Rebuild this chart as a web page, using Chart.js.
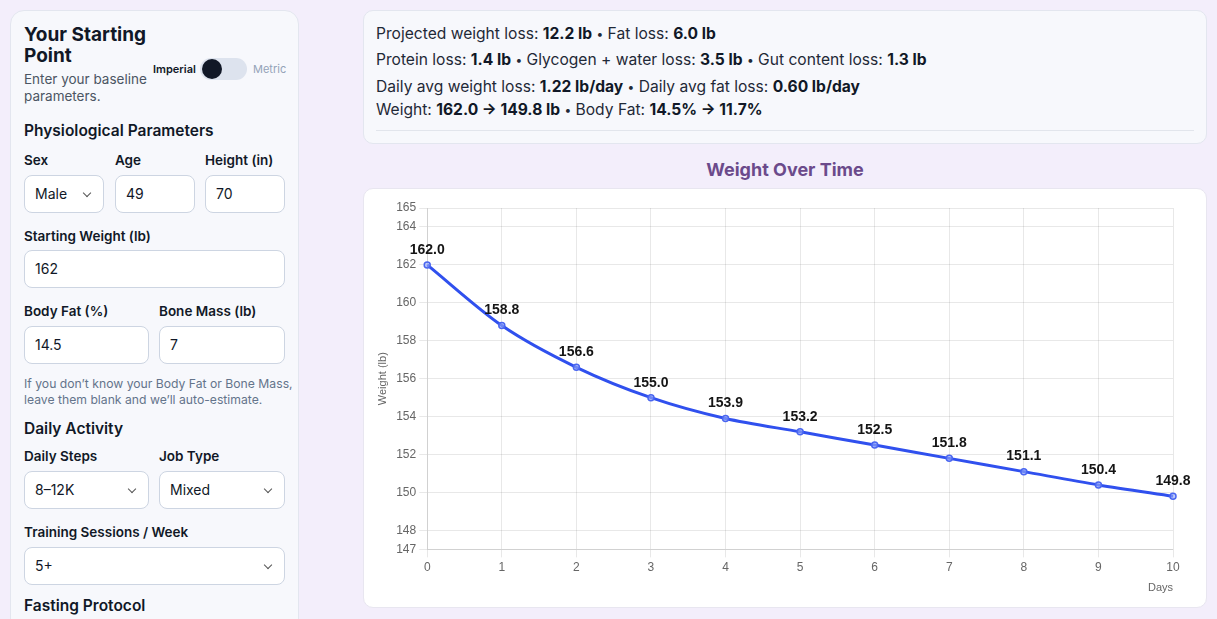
<!DOCTYPE html>
<html>
<head>
<meta charset="utf-8">
<script src="https://cdn.jsdelivr.net/npm/chart.js@4.4.1/dist/chart.umd.min.js"></script>
<style>
  * { box-sizing: border-box; }
  body {
    margin: 0;
    background: #f3eefb;
    font-family: Inter, "Noto Sans", sans-serif;
    color: #111827;
    width: 1217px;
    height: 619px;
    overflow: hidden;
    position: relative;
  }
  .panel {
    position: absolute;
    left: 10px;
    top: 10px;
    width: 289px;
    height: 640px;
    background: #f7f8fc;
    border: 1px solid #e3e6ef;
    border-radius: 14px;
    padding: 0 14px;
  }
  .abs { position: absolute; }
  .h1 { font-size: 19px; font-weight: 700; line-height: 21px; left: 13px; top: 13px; }
  .sub { font-size: 13.5px; color: #4b5563; line-height: 17px; left: 13px; top: 60px; }
  .toggle-lbl { font-size: 11px; font-weight: 600; top: 51px; left: 142px; }
  .toggle { left: 189px; top: 47px; width: 47px; height: 22px; border-radius: 11px; background: #dde3ee; }
  .toggle::after { content: ""; position: absolute; left: 2px; top: 1px; width: 20px; height: 20px; border-radius: 50%; background: #111827; }
  .metric { font-size: 11px; color: #94a3b8; top: 51px; left: 242px; }
  .sec { font-size: 15.5px; font-weight: 600; left: 13px; }
  .lbl { font-size: 13.5px; font-weight: 600; }
  .inp {
    height: 38px;
    background: #fff;
    border: 1px solid #cdd5e2;
    border-radius: 8px;
    font-size: 14px;
    line-height: 36px;
    padding-left: 10px;
  }
  .sel::after {
    content: "";
    position: absolute;
    right: 13px;
    top: 14px;
    width: 5px;
    height: 5px;
    border-right: 1.3px solid #555;
    border-bottom: 1.3px solid #555;
    transform: rotate(45deg);
  }
  .help { font-size: 12.2px; color: #64748b; line-height: 16px; left: 13px; top: 365px; }
  .summary {
    position: absolute;
    left: 363px;
    top: 10px;
    width: 844px;
    height: 134px;
    background: #f7f8fc;
    border: 1px solid #e3e6ef;
    border-radius: 10px;
    padding: 11px 12px 0 12px;
    font-size: 15.6px;
    color: #1f2937;
  }
  .summary div { line-height: 23px; height: 23px; white-space: nowrap; }
  .summary b { font-weight: 700; color: #111827; }
  .summary i { font-style: normal; font-size: 12px; line-height: 0; vertical-align: 1px; }
  .summary hr { border: 0; border-top: 1px solid #e2e5ec; margin: 9px 0 0 0; }
  .ctitle {
    position: absolute;
    left: 363px;
    width: 844px;
    top: 159px;
    text-align: center;
    font-size: 18px;
    font-weight: 700;
    color: #6b4a8b;
  }
  .card {
    position: absolute;
    left: 363px;
    top: 188px;
    width: 844px;
    height: 420px;
    background: #fff;
    border: 1px solid #e8e6f0;
    border-radius: 10px;
  }
  .card canvas { position: absolute; left: 0; top: 0; }
</style>
</head>
<body>
<div class="panel">
  <div class="abs h1">Your Starting<br>Point</div>
  <div class="abs sub">Enter your baseline<br>parameters.</div>
  <div class="abs toggle-lbl">Imperial</div>
  <div class="abs toggle"></div>
  <div class="abs metric">Metric</div>

  <div class="abs sec" style="top:110px">Physiological Parameters</div>
  <div class="abs lbl" style="left:13px;top:141px">Sex</div>
  <div class="abs lbl" style="left:104px;top:141px">Age</div>
  <div class="abs lbl" style="left:194px;top:141px">Height (in)</div>
  <div class="abs inp sel" style="left:13px;top:164px;width:80px">Male</div>
  <div class="abs inp" style="left:104px;top:164px;width:80px">49</div>
  <div class="abs inp" style="left:194px;top:164px;width:80px">70</div>

  <div class="abs lbl" style="left:13px;top:217px">Starting Weight (lb)</div>
  <div class="abs inp" style="left:13px;top:239px;width:261px">162</div>

  <div class="abs lbl" style="left:13px;top:292px">Body Fat (%)</div>
  <div class="abs lbl" style="left:148px;top:292px">Bone Mass (lb)</div>
  <div class="abs inp" style="left:13px;top:315px;width:125px">14.5</div>
  <div class="abs inp" style="left:148px;top:315px;width:126px">7</div>

  <div class="abs help">If you don’t know your Body Fat or Bone Mass,<br>leave them blank and we’ll auto-estimate.</div>

  <div class="abs sec" style="top:408px">Daily Activity</div>
  <div class="abs lbl" style="left:13px;top:437px">Daily Steps</div>
  <div class="abs lbl" style="left:148px;top:437px">Job Type</div>
  <div class="abs inp sel" style="left:13px;top:460px;width:125px">8–12K</div>
  <div class="abs inp sel" style="left:148px;top:460px;width:126px">Mixed</div>

  <div class="abs lbl" style="left:13px;top:513px">Training Sessions / Week</div>
  <div class="abs inp sel" style="left:13px;top:536px;width:261px">5+</div>

  <div class="abs sec" style="top:585px">Fasting Protocol</div>
</div>

<div class="summary">
  <div style="margin-bottom:3px">Projected weight loss: <b>12.2 lb</b> <i>•</i> Fat loss: <b>6.0 lb</b></div>
  <div style="margin-bottom:4px">Protein loss: <b>1.4 lb</b> <i>•</i> Glycogen + water loss: <b>3.5 lb</b> <i>•</i> Gut content loss: <b>1.3 lb</b></div>
  <div>Daily avg weight loss: <b>1.22 lb/day</b> <i>•</i> Daily avg fat loss: <b>0.60 lb/day</b></div>
  <div>Weight: <b>162.0 → 149.8 lb</b> <i>•</i> Body Fat: <b>14.5% → 11.7%</b></div>
  <hr>
</div>

<div class="ctitle">Weight Over Time</div>
<div class="card">
  <canvas id="weight-chart" width="842" height="418"></canvas>
</div>

<script>
const days = [0, 1, 2, 3, 4, 5, 6, 7, 8, 9, 10];
const weights = [162.0, 158.8, 156.6, 155.0, 153.9, 153.2, 152.5, 151.8, 151.1, 150.4, 149.8];
const yTicks = [147, 148, 150, 152, 154, 156, 158, 160, 162, 164, 165];

const weightCanvas = document.getElementById("weight-chart");

// draws the value above every point
const pointLabels = {
  id: "pointLabels",
  afterDatasetsDraw(chart) {
    const ctx = chart.ctx;
    const meta = chart.getDatasetMeta(0);
    ctx.save();
    ctx.font = "bold 14px 'Liberation Sans', Arial, sans-serif";
    ctx.fillStyle = "#151515";
    ctx.textAlign = "center";
    ctx.textBaseline = "bottom";
    meta.data.forEach((pt, i) => {
      ctx.fillText(weights[i].toFixed(1), pt.x, pt.y - 8);
    });
    ctx.restore();
  },
};

const weightChart = new Chart(weightCanvas, {
  type: "line",
  data: {
    labels: days,
    datasets: [
      {
        label: "Weight (lb)",
        data: weights,
        borderColor: "#3050ee",
        borderWidth: 3,
        pointRadius: 3,
        pointBorderWidth: 1.5,
        pointBackgroundColor: "rgba(150, 170, 250, 0.6)",
        pointBorderColor: "#4a66f0",
        tension: 0.3,
        fill: false,
      },
    ],
  },
  options: {
    responsive: false,
    animation: false,
    layout: {
      padding: { left: 8, right: 33, top: 19, bottom: 8 },
    },
    scales: {
      x: {
        type: "category",
        ticks: { color: "#666", font: { size: 12 } },
        grid: { color: "rgba(0,0,0,0.09)" },
        title: {
          display: true,
          text: "Days",
          align: "end",
          color: "#666",
          font: { size: 11 },
        },
      },
      y: {
        min: yTicks[0],
        max: yTicks[yTicks.length - 1],
        afterBuildTicks: (axis) => {
          axis.ticks = yTicks.map((v) => ({ value: v }));
        },
        ticks: { color: "#666", font: { size: 12 } },
        grid: { color: "rgba(0,0,0,0.09)" },
        title: {
          display: true,
          text: "Weight (lb)",
          color: "#666",
          font: { size: 11 },
        },
      },
    },
    plugins: {
      legend: { display: false },
      tooltip: { enabled: false },
    },
  },
  plugins: [pointLabels],
});
</script>
</body>
</html>
